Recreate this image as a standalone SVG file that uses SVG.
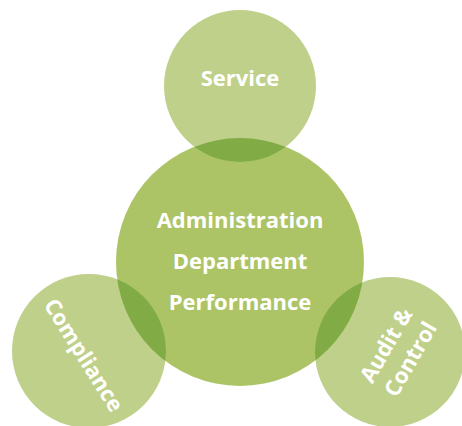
<svg xmlns="http://www.w3.org/2000/svg" width="462" height="426" viewBox="0 0 462 426">
  <style>
    .small { fill: #bfd08a; }
    .main { fill: #adc466; }
    .lap { fill: #80ab45; }
    .lbl { font-family: "Open Sans", "DejaVu Sans", sans-serif; font-weight: 700; font-size: 22px; fill: #ffffff; text-anchor: middle; }
  </style>
  <defs>
    <clipPath id="clipMain"><circle cx="240" cy="262" r="124"/></clipPath>
  </defs>
  <rect width="462" height="426" fill="#ffffff"/>

  <g id="main">
    <circle class="main" cx="240" cy="262" r="124"/>
  </g>
  <g id="service">
    <circle class="small" cx="240" cy="86" r="76"/>
  </g>
  <g id="compliance">
    <circle class="small" cx="89" cy="351" r="77"/>
  </g>
  <g id="audit">
    <circle class="small" cx="390" cy="352" r="75"/>
  </g>

  <!-- overlap lenses of the outer circles with the centre circle -->
  <g id="overlaps" clip-path="url(#clipMain)">
    <circle class="lap" cx="240" cy="86" r="76"/>
    <circle class="lap" cx="89" cy="351" r="77"/>
    <circle class="lap" cx="390" cy="352" r="75"/>
  </g>

  <g id="labels">
    <text class="lbl" x="240" y="86">Service</text>
    <text class="lbl" x="240" y="228">Administration</text>
    <text class="lbl" x="240" y="269">Department</text>
    <text class="lbl" x="240" y="310">Performance</text>
    <text class="lbl" transform="translate(84,355) rotate(58)" x="0" y="8">Compliance</text>
    <g transform="translate(398,352) rotate(-60)">
      <text class="lbl" x="0" y="-6">Audit &amp;</text>
      <text class="lbl" x="0" y="22">Control</text>
    </g>
  </g>
</svg>
